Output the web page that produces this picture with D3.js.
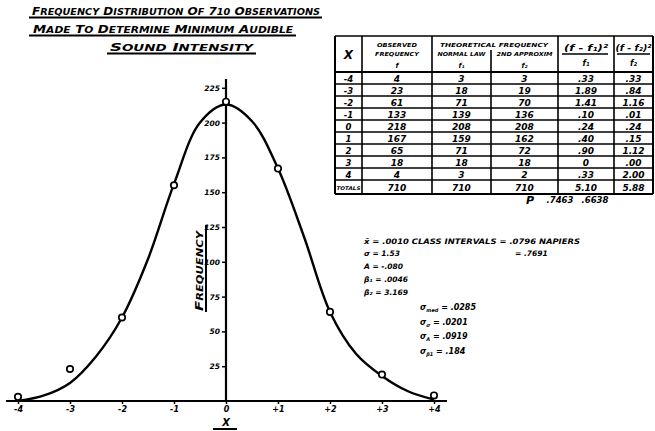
<!DOCTYPE html>
<html><head><meta charset="utf-8">
<script src="https://cdn.jsdelivr.net/npm/d3@7"></script>
<style>
body{margin:0;background:#fff}
svg{display:block}
text{font-family:"DejaVu Sans",sans-serif;font-weight:bold;font-style:italic;fill:#000}
</style>
</head><body>
<svg id="c" width="655" height="431"></svg>
<script>
// ---------------- data ----------------
const classes = [-4, -3, -2, -1, 0, 1, 2, 3, 4];
const xTickLabels = ["-4", "-3", "-2", "-1", "0", "+1", "+2", "+3", "+4"];
const observedPoints = [3, 23, 60, 155, 215, 167, 64, 19, 4];
const curveXs = [-4, -3.5, -3, -2.5, -2, -1.5, -1, -0.5, 0, 0.5, 1, 1.5, 2, 2.5, 3, 3.5, 4];
const curveYs = [0, 4, 13, 32, 60, 102, 156, 200, 213, 201, 167, 118, 64, 34, 18, 7, 1];
const yTicks = [25, 50, 75, 100, 125, 150, 175, 200, 225];
const titleLines = ["FREQUENCY DISTRIBUTION OF 710 OBSERVATIONS", "MADE TO DETERMINE MINIMUM AUDIBLE", "SOUND INTENSITY"];
const yTitle = "FREQUENCY";
const xTitle = "X";

const tabX = ["-4", "-3", "-2", "-1", "0", "1", "2", "3", "4", "TOTALS"];
const tabObserved = ["4", "23", "61", "133", "218", "167", "65", "18", "4", "710"];
const tabNormal = ["3", "18", "71", "139", "208", "159", "71", "18", "3", "710"];
const tabSecond = ["3", "19", "70", "136", "208", "162", "72", "18", "2", "710"];
const tabChi1 = [".33", "1.89", "1.41", ".10", ".24", ".40", ".90", "0", ".33", "5.10"];
const tabChi2 = [".33", ".84", "1.16", ".01", ".24", ".15", "1.12", ".00", "2.00", "5.88"];
const pValues = [".7463", ".6638"];

const statsA = ["x\u0304 = .0010 CLASS INTERVALS = .0796 NAPIERS", "\u03C3 = 1.53", "A = -.080", "\u03B2\u2081 = .0046", "\u03B2\u2082 = 3.169"];
const statsA2 = "= .7691";
const statsB = [["\u03C3", "med", " = .0285"], ["\u03C3", "\u03C3", " = .0201"], ["\u03C3", "A", " = .0919"], ["\u03C3", "\u03B21", " = .184"]];

// ---------------- layout ----------------
const svg = d3.select("#c");
const x = d3.scaleLinear().domain([-4, 4]).range([18, 434]);
const y = d3.scaleLinear().domain([0, 225]).range([401, 87.8]);
const ink = "#000";

// small-caps style lettering: first letter of each word larger
function letter(sel, str, big, small) {
  str.split(" ").forEach((w, k) => {
    sel.append("tspan").attr("font-size", big).text((k ? " " : "") + w[0]);
    if (w.length > 1) sel.append("tspan").attr("font-size", small).text(w.slice(1));
  });
}

// title
const tBox = [[32, 15, 288, 17.5, 29, 322], [33, 33, 260, 35.5, 29, 296], [110, 51, 143, 53.5, 107, 256]];
titleLines.forEach((t, i) => {
  const b = tBox[i];
  const e = svg.append("text").attr("x", b[0]).attr("y", b[1])
    .attr("textLength", b[2]).attr("lengthAdjust", "spacingAndGlyphs");
  letter(e, t, 10.5, 8.5);
  svg.append("line").attr("x1", b[4]).attr("x2", b[5]).attr("y1", b[3]).attr("y2", b[3])
    .attr("stroke", ink).attr("stroke-width", 1.8);
});

// axes
const gy = svg.append("g").attr("transform", `translate(${x(0)},0)`)
  .call(d3.axisLeft(y).tickValues(yTicks).tickSize(4).tickPadding(2));
gy.select(".domain").remove();
gy.selectAll(".tick line").attr("stroke", ink).attr("stroke-width", 1.5);
gy.selectAll(".tick text").attr("font-size", 7.5).attr("font-family", "DejaVu Sans")
  .attr("font-weight", "bold").attr("font-style", "italic");
svg.append("line").attr("x1", x(0)).attr("x2", x(0)).attr("y1", y(0) + 1).attr("y2", 79)
  .attr("stroke", ink).attr("stroke-width", 2.2);

const gx = svg.append("g").attr("transform", `translate(0,${y(0)})`)
  .call(d3.axisBottom(x).tickValues(classes).tickFormat((d, i) => xTickLabels[i]).tickSize(3).tickPadding(2));
gx.select(".domain").remove();
gx.selectAll(".tick line").attr("stroke", ink).attr("stroke-width", 1.5);
gx.selectAll(".tick text").attr("font-size", 8).attr("font-family", "DejaVu Sans")
  .attr("font-weight", "bold").attr("font-style", "italic");
svg.append("line").attr("x1", 6).attr("x2", 447).attr("y1", y(0)).attr("y2", y(0))
  .attr("stroke", ink).attr("stroke-width", 2.2);

// axis titles
const yt = svg.append("text").attr("transform", "translate(203,271) rotate(-90)").attr("text-anchor", "middle")
  .attr("textLength", 80).attr("lengthAdjust", "spacingAndGlyphs");
letter(yt, yTitle, 11, 8.5);
svg.append("line").attr("x1", 206).attr("x2", 206).attr("y1", 225).attr("y2", 312)
  .attr("stroke", ink).attr("stroke-width", 2);
svg.append("text").attr("x", x(0)).attr("y", 426).attr("text-anchor", "middle").attr("font-size", 10).text(xTitle);
svg.append("line").attr("x1", 213).attr("x2", 237).attr("y1", 429).attr("y2", 429)
  .attr("stroke", ink).attr("stroke-width", 2);

// curve
const line = d3.line().x((d, i) => x(curveXs[i])).y(d => y(d)).curve(d3.curveCatmullRom.alpha(0.5));
svg.append("path").attr("d", line(curveYs)).attr("fill", "none").attr("stroke", ink).attr("stroke-width", 2.4);

// points
svg.selectAll("circle.pt").data(observedPoints).join("circle").attr("class", "pt")
  .attr("cx", (d, i) => x(classes[i])).attr("cy", d => y(d)).attr("r", 3.2)
  .attr("fill", "#fff").attr("stroke", ink).attr("stroke-width", 1.7);

// ---------------- table ----------------
const colX = [335, 362, 432, 491, 558, 614, 653];
const tTop = 36, headBot = 72, rowH = 12, totH = 14;
const rowTop = i => headBot + i * rowH;
const tBottom = headBot + 9 * rowH + totH;
const tg = svg.append("g");
const L = (x1, y1, x2, y2, w) => tg.append("line").attr("x1", x1).attr("y1", y1).attr("x2", x2).attr("y2", y2)
  .attr("stroke", ink).attr("stroke-width", w || 1.6);
L(colX[0], tTop, colX[6], tTop);
L(colX[0], headBot, colX[6], headBot, 2);
for (let i = 1; i <= 9; i++) L(colX[0], rowTop(i), colX[6], rowTop(i));
L(colX[0], tBottom, colX[6], tBottom, 2);
colX.forEach((cx, j) => L(cx, j === 3 ? 50 : tTop, cx, tBottom, j === 0 || j === 6 ? 2 : 1.6));

const T = (tx, ty, s, fs, anchor, len) => {
  const e = tg.append("text").attr("x", tx).attr("y", ty).attr("font-size", fs).attr("text-anchor", anchor || "middle").text(s);
  if (len) e.attr("textLength", len).attr("lengthAdjust", "spacingAndGlyphs");
  return e;
};
const mid = j => (colX[j] + colX[j + 1]) / 2;
T(mid(0), 59, "X", 12);
T(mid(1), 47, "OBSERVED", 5.5, "middle", 40);
T(mid(1), 56, "FREQUENCY", 5.5, "middle", 44);
T(mid(1), 68, "f", 7);
T(494, 47, "THEORETICAL FREQUENCY", 5.5, "middle", 108);
T(mid(2), 56, "NORMAL LAW", 5.5, "middle", 48);
T(mid(3), 56, "2ND APPROXIM", 5.5, "middle", 56);
T(mid(2), 68, "f\u2081", 7);
T(mid(3), 68, "f\u2082", 7);
T(mid(4), 51, "(f - f\u2081)\u00B2", 9, "middle", 44);
T(mid(5), 51, "(f - f\u2082)\u00B2", 9, "middle", 36);
L(colX[4] + 4, 54, colX[5] - 6, 54, 1.5);
L(colX[5] + 3, 54, colX[6] - 3, 54, 1.5);
T(mid(4), 66, "f\u2081", 8);
T(mid(5), 66, "f\u2082", 8);

const cols = [tabX, tabObserved, tabNormal, tabSecond, tabChi1, tabChi2];
cols.forEach((arr, j) => {
  arr.forEach((v, i) => {
    const yy = i < 9 ? rowTop(i) + rowH - 2.5 : rowTop(9) + totH - 3.5;
    if (j === 0 && i === 9) T(mid(0), yy - 1, v, 5, "middle", 24);
    else T(mid(j), yy, v, j === 0 ? 8.5 : 9);
  });
});
T(530, tBottom + 10, "P", 11);
T(560, tBottom + 9, pValues[0], 8.5);
T(595, tBottom + 9, pValues[1], 8.5);

// ---------------- stats ----------------
const sg = svg.append("g");
const statsY = [241, 253, 266, 279, 292];
statsA.forEach((s, i) => {
  const e = sg.append("text").attr("x", 364).attr("y", statsY[i] + 3).attr("font-size", 7.5).text(s);
  if (i === 0) e.attr("textLength", 216).attr("lengthAdjust", "spacingAndGlyphs");
});
sg.append("text").attr("x", 515).attr("y", statsY[1] + 3).attr("font-size", 7.5).text(statsA2);
const statsBY = [307, 322, 336, 351];
statsB.forEach((s, i) => {
  const t = sg.append("text").attr("x", 420).attr("y", statsBY[i] + 3).attr("font-size", 8);
  t.append("tspan").text(s[0]);
  t.append("tspan").attr("font-size", 5).attr("dy", 2).text(s[1]);
  t.append("tspan").attr("dy", -2).text(s[2]);
});
</script>
</body></html>
